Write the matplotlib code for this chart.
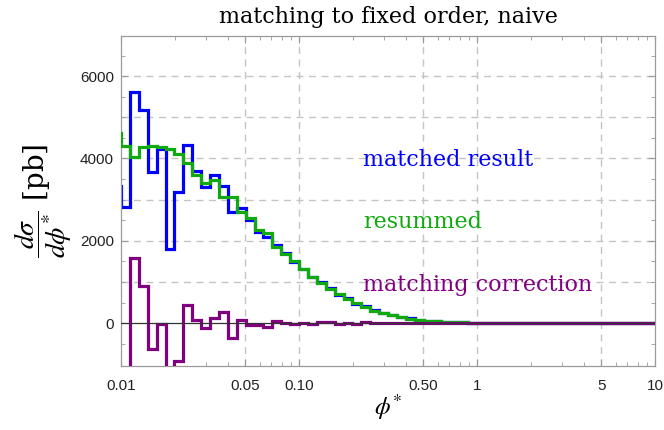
import numpy as np
import matplotlib
matplotlib.use("Agg")
import matplotlib.pyplot as plt
from matplotlib.ticker import FixedLocator, NullFormatter

plt.rcParams['mathtext.fontset'] = 'stix'

# bin edges: 20 log-spaced bins per decade, from 10^-2.05 to 10^1
bin_edges = np.logspace(-2.05, 1.0, 62)

resummed = [4630, 4305, 4030, 4275, 4305, 4270, 4225, 4110, 3895, 3600,
            3410, 3475, 3075, 3075, 2710, 2550, 2265, 2185, 1845, 1690,
            1510, 1312, 1130, 970, 830, 705, 585, 480, 390, 305,
            240, 190, 146, 113, 84, 65, 49, 36, 27, 20,
            15, 11, 8, 6, 5, 4, 3, 2.5, 2, 1.5,
            1.2, 1, 0.8, 0.6, 0.5, 0.4, 0.3, 0.25, 0.2, 0.15, 0.1]

correction = [-1310, -1490, 1590, 905, -630, -30, -2430, -930, 435, 85,
              -110, 125, 260, -365, 80, -50, -40, -85, 60, 15,
              -20, 10, -15, 20, 30, -30, 15, -10, 20, 10,
              5, 8, -6, 5, 4, -3, 3, 2, -2, 2,
              1, 1, 0.5, 0.5, 0.3, 0.2, 0.1, 0.1, 0, 0,
              0, 0, 0, 0, 0, 0, 0, 0, 0, 0, 0]

matched = [3320, 2815, 5620, 5180, 3675, 4240, 1795, 3180, 4330, 3685,
           3300, 3600, 3335, 2710, 2790, 2500, 2225, 2100, 1905, 1705,
           1490, 1322, 1115, 990, 860, 675, 600, 470, 410, 315,
           245, 198, 140, 118, 88, 62, 52, 38, 25, 22,
           16, 12, 8.5, 6.5, 5.3, 4.2, 3.1, 2.6, 2, 1.5,
           1.2, 1, 0.8, 0.6, 0.5, 0.4, 0.3, 0.25, 0.2, 0.15, 0.1]

x_ticks = [0.01, 0.05, 0.1, 0.5, 1, 5, 10]
x_tick_labels = ["0.01", "0.05", "0.10", "0.50", "1", "5", "10"]
y_ticks = [0, 2000, 4000, 6000]

BLUE = "#0000ff"
GREEN = "#10aa10"
PURPLE = "#800080"
FRAME = "#9a9a9a"
GRID = "#c4c4c4"

fig = plt.figure(figsize=(6.64, 4.30), dpi=100)
ax = fig.add_axes([121/664, 64/430, 534/664, 330/430])

ax.set_xscale('log')
ax.set_xlim(0.01, 10)
ax.set_ylim(-1040, 6975)

# grid
for gx in [0.05, 0.1, 0.5, 1, 5]:
    ax.axvline(gx, color=GRID, lw=1.0, ls=(0, (5, 4)), zorder=0)
for gy in [1000, 2000, 3000, 4000, 5000, 6000]:
    ax.axhline(gy, color=GRID, lw=1.0, ls=(0, (5, 4)), zorder=0)

ax.stairs(matched, bin_edges, color=BLUE, lw=2.3, baseline=None, zorder=2)
ax.stairs(resummed, bin_edges, color=GREEN, lw=2.3, baseline=None, zorder=3)
ax.stairs(correction, bin_edges, color=PURPLE, lw=2.3, baseline=None, zorder=4)
ax.axhline(0, color="#333333", lw=0.9, zorder=5)

# ticks
ax.xaxis.set_major_locator(FixedLocator(x_ticks))
ax.set_xticklabels(x_tick_labels)
minor_x = []
for dec in [0.01, 0.1, 1]:
    for m in [2, 3, 4, 6, 7, 8, 9]:
        minor_x.append(dec * m)
ax.xaxis.set_minor_locator(FixedLocator(minor_x))
ax.xaxis.set_minor_formatter(NullFormatter())
ax.yaxis.set_major_locator(FixedLocator(y_ticks))
ax.yaxis.set_minor_locator(FixedLocator([-500, 500, 1000, 1500, 2500, 3000, 3500,
                                         4500, 5000, 5500, 6500]))
ax.tick_params(which='both', direction='in', top=True, right=True,
               color=FRAME, labelsize=11, labelcolor='#222222')
ax.tick_params(which='major', length=5, width=0.8)
ax.tick_params(which='minor', length=3, width=0.6)
ax.tick_params(axis='x', which='major', pad=9)
ax.tick_params(axis='y', which='major', pad=5)
for lab in ax.get_xticklabels() + ax.get_yticklabels():
    lab.set_family('Liberation Sans')
for sp in ax.spines.values():
    sp.set_color(FRAME)
    sp.set_linewidth(0.9)

ax.set_title("matching to fixed order, naive", family='DejaVu Serif',
             fontsize=16, pad=9)
ax.set_xlabel(r"$\phi^{*}$", fontsize=18, labelpad=0)
ax.set_ylabel(r"$\dfrac{d\sigma}{d\phi^{*}}$ [pb]", family='DejaVu Serif',
              fontsize=20, labelpad=4)

ax.text(0.453, 0.606, "matched result", color=BLUE, transform=ax.transAxes,
        family='DejaVu Serif', fontsize=16, va='baseline', ha='left')
ax.text(0.453, 0.418, "resummed", color=GREEN, transform=ax.transAxes,
        family='DejaVu Serif', fontsize=16, va='baseline', ha='left')
ax.text(0.453, 0.227, "matching correction", color=PURPLE, transform=ax.transAxes,
        family='DejaVu Serif', fontsize=16, va='baseline', ha='left')

fig.savefig("out.png", dpi=100)
